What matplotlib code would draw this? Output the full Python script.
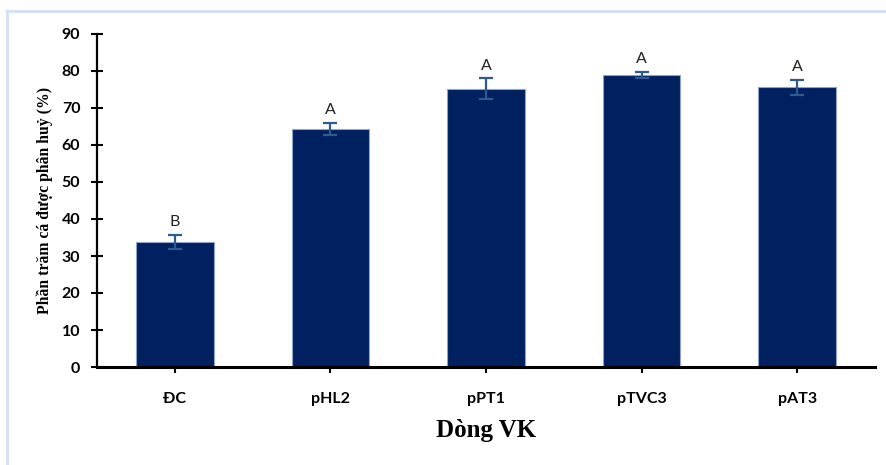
import matplotlib
matplotlib.use("Agg")
import matplotlib.pyplot as plt
from matplotlib.lines import Line2D

categories = ["ĐC", "pHL2", "pPT1", "pTVC3", "pAT3"]
values = [33.8, 64.3, 75.2, 78.9, 75.6]
errors = [2.0, 1.7, 2.8, 0.9, 2.1]
letters = ["B", "A", "A", "A", "A"]
yticks = [0, 10, 20, 30, 40, 50, 60, 70, 80, 90]

fig = plt.figure(figsize=(8.87, 4.65), dpi=100)
ax = fig.add_axes([97/887, (465-367)/465, (875-97)/887, (367-34)/465])

x = range(len(categories))
ax.bar(x, values, width=0.5, color="#002060", edgecolor="#8EA3C8", linewidth=0.8, zorder=2)
ax.errorbar(x, values, yerr=errors, fmt="none", ecolor="#2E5A8F", elinewidth=1.6,
            capsize=5, capthick=1.6, zorder=3)
for xi, v, e, t in zip(x, values, errors, letters):
    ax.annotate(t, (xi, v + e), xytext=(0, 4), textcoords="offset points",
                ha="center", va="bottom", fontsize=11.5, family="Lato", color="#222222")

ax.set_xlim(-0.5, len(categories) - 0.5)
ax.set_ylim(0, 90)
ax.set_yticks(yticks)
ax.set_xticks(list(x))
ax.set_xticklabels(categories, fontsize=11.5, fontweight="bold", family="Lato")
ax.set_yticklabels([str(v) for v in yticks], fontsize=11.5, fontweight="bold", family="Lato")
ax.tick_params(axis="both", direction="inout", length=8, width=1.5, color="black")
ax.tick_params(axis="x", pad=14)
ax.tick_params(axis="y", pad=8)
for s in ["top", "right"]:
    ax.spines[s].set_visible(False)
ax.spines["left"].set_linewidth(1.6)
ax.spines["bottom"].set_linewidth(2.2)

ax.set_ylabel("Phần trăm cá được phân huỷ (%)", family="Liberation Serif", fontweight="bold",
              fontsize=11.3, labelpad=6)
ax.set_xlabel("Dòng VK", family="Liberation Serif", fontweight="bold", fontsize=18, labelpad=9)

# light blue frame lines (top and left)
fig.add_artist(Line2D([7/887, 1.0], [1 - 11/465, 1 - 11/465], transform=fig.transFigure,
                      color="#D6E2F3", linewidth=2.2))
fig.add_artist(Line2D([7/887, 7/887], [0, 1 - 11/465], transform=fig.transFigure,
                      color="#D6E2F3", linewidth=2.2))

fig.savefig("out.png", dpi=100)
